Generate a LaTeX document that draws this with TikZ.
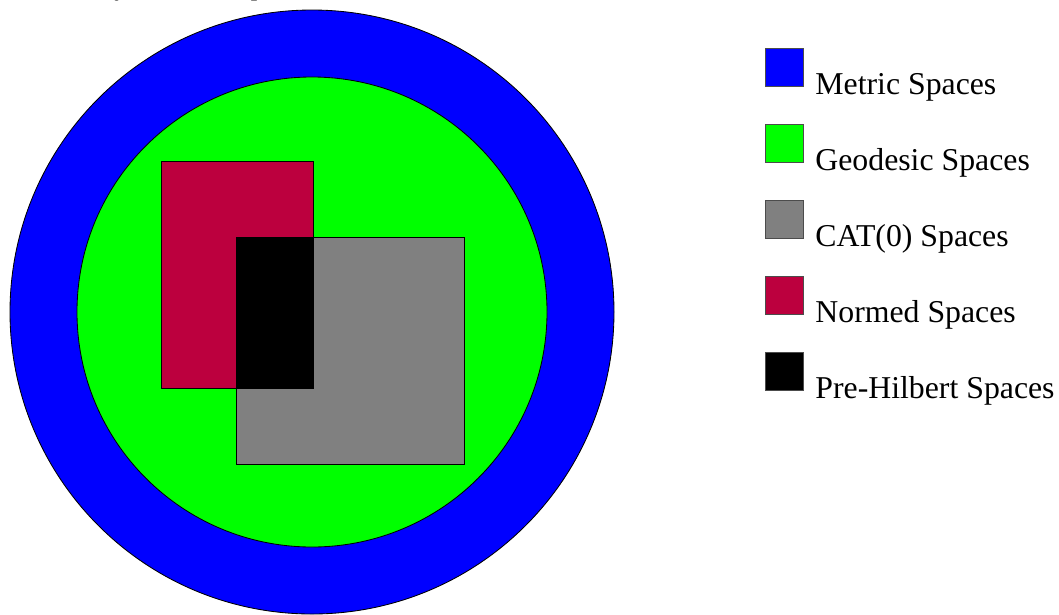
\documentclass[tikz,border=0pt]{standalone}
\usepackage{fontspec}
\setmainfont{Liberation Serif}
\usetikzlibrary{positioning}
\definecolor{cblue}{HTML}{0000FF}
\definecolor{cgreen}{HTML}{00FF00}
\definecolor{cgray}{HTML}{808080}
\definecolor{cred}{HTML}{BC003E}

\begin{document}
\begin{tikzpicture}[x=0.025cm, y=-0.025cm, line width=0.6pt]
  \tikzset{
    region/.style={draw=black},
    legbox/.style={draw=black!70, line width=0.5pt, minimum size=0.95cm, inner sep=0, anchor=north west},
    legtext/.style={anchor=base west, inner sep=0, font=\fontsize{22.6}{27}\selectfont}
  }
  \useasboundingbox (0,0) rectangle (1059,614);
  % title (cut by the top edge)
  \node[anchor=base west, inner sep=0, font=\fontsize{18.3}{22}\selectfont] (title) at (24,-5) {Hierarchy of Metric Spaces};
  % nested regions
  \coordinate (c) at (312,312);
  \fill[cblue, region] (c) circle (302);
  \fill[cgreen, region] (c) circle (235);
  \fill[cred, region] (161,161) rectangle (313,388);
  \fill[cgray, region] (236,237) rectangle (464,464);
  \fill[black, region] (236,237) rectangle (313,388);
  % legend
  \foreach \i/\col/\txt in {0/cblue/Metric Spaces, 1/cgreen/Geodesic Spaces, 2/cgray/CAT(0) Spaces, 3/cred/Normed Spaces, 4/black/Pre-Hilbert Spaces}{
    \node[legbox, fill=\col] (box\i) at (765,48+76*\i) {};
    \node[legtext] (lab\i) at (815,94+76*\i) {\txt};
  }
\end{tikzpicture}
\end{document}
